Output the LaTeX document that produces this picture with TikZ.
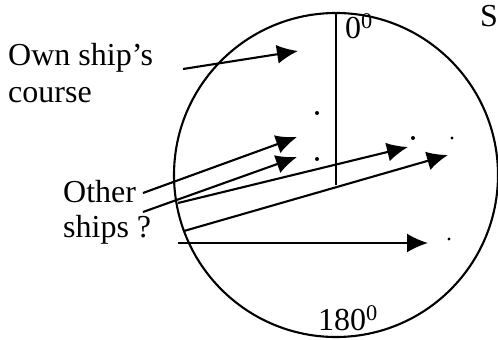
\documentclass[tikz,border=0pt]{standalone}
\usepackage{fontspec}
\setmainfont{Liberation Serif}
\usetikzlibrary{arrows.meta}
\begin{document}
\begin{tikzpicture}[x=1pt,y=-1pt,
  ln/.style={line width=2.1pt},
  arr/.style={ln,-{Latex[length=21pt,width=19pt]}},
  lbl/.style={anchor=base west,inner sep=0pt,font=\fontsize{32}{38}\selectfont},
  dotm/.style={fill=black}]
\useasboundingbox (0,0) rectangle (498,340);
\begin{scope}
\clip (0,0) rectangle (498,340);
% dial
\draw[ln] (336,175) circle[radius=162];
\coordinate (top) at (336,13);
\coordinate (ctr) at (336,185);
\draw[ln] (top) -- (ctr);
\node[lbl] (zero) at (345,38) {0\textsuperscript{0}};
\node[lbl] (oneeighty) at (318,330) {180\textsuperscript{0}};
\node[lbl] (su) at (480,27) {Su};
% labels
\node[lbl] (own1) at (8,65) {Own ship’s};
\node[lbl] (own2) at (8,102) {course};
\node[lbl] (oth1) at (63,202) {Other};
\node[lbl] (oth2) at (63,237) {ships ?};
% own ship arrow
\coordinate (o0) at (183,69);
\coordinate (o1) at (298,51);
\draw[arr] (o0) -- (o1);
% other ships arrows
\coordinate (a0) at (143,193);
\coordinate (a1) at (297,137);
\draw[arr] (a0) -- (a1);
\coordinate (b0) at (143,212);
\coordinate (b1) at (297,157);
\draw[arr] (b0) -- (b1);
\coordinate (c0) at (178,203);
\coordinate (c1) at (408,147);
\draw[arr] (c0) -- (c1);
\coordinate (d0) at (184,231);
\coordinate (d1) at (448,155);
\draw[arr] (d0) -- (d1);
\coordinate (e0) at (178,243);
\coordinate (e1) at (428,243);
\draw[arr] (e0) -- (e1);
% dots
\fill[dotm] (317,113) circle[radius=2];
\fill[dotm] (317,159) circle[radius=2];
\fill[dotm] (413,138) circle[radius=2];
\fill[dotm] (452,138) circle[radius=1.6];
\fill[dotm] (449,239) circle[radius=1.6];
\end{scope}
\end{tikzpicture}
\end{document}
